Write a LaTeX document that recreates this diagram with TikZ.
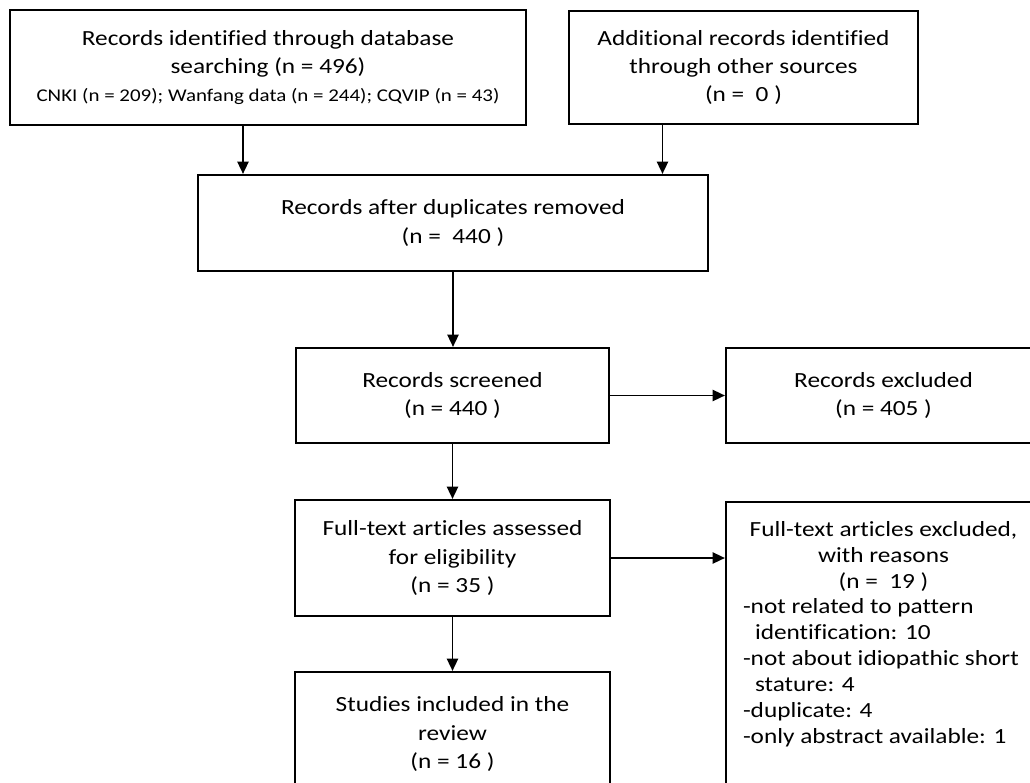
\documentclass[tikz,border=0pt]{standalone}
\usepackage{fontspec}
\setmainfont{Carlito}[FakeStretch=1.17,Ligatures=NoCommon]
\usetikzlibrary{arrows.meta, positioning}

\begin{document}
\begin{tikzpicture}[x=0.2mm,y=-0.2mm,>={Triangle[length=7pt,width=6.4pt]},
        every node/.style={font=\fontsize{12.3}{16.4}\selectfont},
        box/.style={draw,line width=1.25pt,inner sep=0pt,align=center},
        flow/.style={->,line width=1pt},]

  \useasboundingbox (0,0) rectangle (1030,783);
  \clip (0,0) rectangle (1030,783);

  \node[box,minimum width=103.2mm,minimum height=23mm,font=\fontsize{12.3}{15.9}\selectfont] (ident) at (268,67.5)
      {Records identified through database\\ searching (n = 496)\\ {\fontsize{10.2}{13}\selectfont CNKI (n = 209); Wanfang data (n = 244); CQVIP (n = 43)}};
  \node[box,minimum width=69.8mm,minimum height=22.6mm,font=\fontsize{12.3}{15.9}\selectfont] (other) at (743.5,67.5)
      {Additional records identified\\ through other sources\\ (n = \ 0 )};
  \node[box,minimum width=102mm,minimum height=19.2mm] (dedup) at (453,223)
      {Records after duplicates removed\\ (n = \ 440 )};
  \node[box,minimum width=62.6mm,minimum height=19mm] (screened) at (452.5,395.5)
      {Records screened\\ (n = 440 )};
  \node[box,minimum width=63mm,minimum height=19mm,on grid,right=86.2mm of screened] (excluded)
      {Records excluded\\ (n = 405 )};
  \node[box,minimum width=63mm,minimum height=23.2mm] (fulltext) at (452.5,558)
      {Full-text articles assessed\\ for eligibility\\ (n = 35 )};
  \node[box,anchor=north,font=\fontsize{12.3}{14.7}\selectfont] (reasons) at (883.5,501)
      {\parbox[c][64mm][t]{63mm}{\vspace*{11pt}{\centering Full-text articles excluded,\\ with reasons\\ (n = \ 19 )\par}
       \raggedright\setlength{\leftskip}{3.4mm}
       -not related to pattern\\ \hspace*{2.4mm}identification: 10\\
       -not about idiopathic short\\ \hspace*{2.4mm}stature: 4\\
       -duplicate: 4\\ -only abstract available: 1\par}};
  \node[box,minimum width=63mm,minimum height=24.8mm] (included) at (452.5,734)
      {Studies included in the\\ review\\ (n = 16 )};

  \coordinate (in1) at ([xshift=-5mm]ident.south);
  \coordinate (in2) at ([xshift=-16.2mm]other.south);
  \draw[flow] (in1) -- (in1 |- dedup.north);
  \draw[flow] (in2) -- (in2 |- dedup.north);
  \draw[flow] (dedup.south) -- (dedup.south |- screened.north);
  \draw[flow] (screened.east) -- (excluded.west);
  \draw[flow] (screened.south) -- (fulltext.north);
  \draw[flow] (fulltext.east) -- (fulltext.east -| reasons.west);
  \draw[flow] (fulltext.south) -- (included.north);
\end{tikzpicture}
\end{document}
